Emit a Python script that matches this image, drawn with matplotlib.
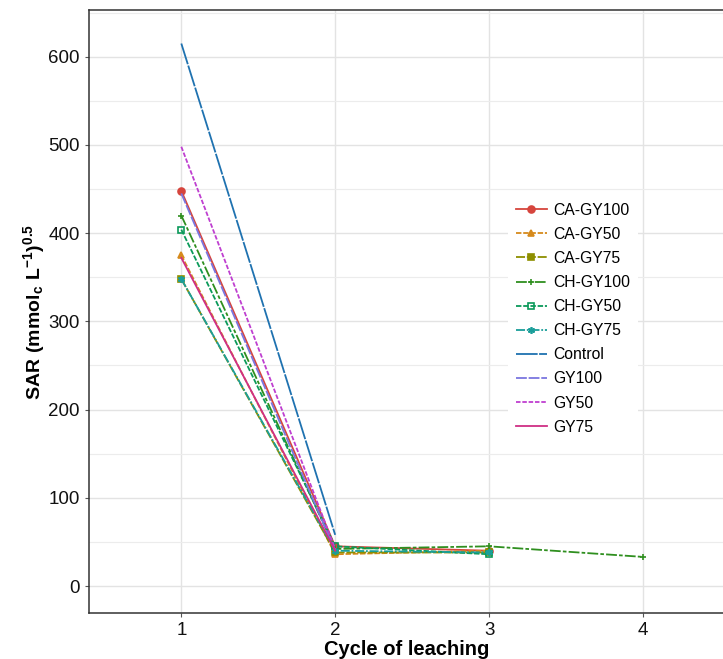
import matplotlib
matplotlib.use("Agg")
import matplotlib.pyplot as plt

plt.rcParams['font.family'] = ['Liberation Sans', 'DejaVu Sans']
plt.rcParams['mathtext.fontset'] = 'custom'
plt.rcParams['mathtext.rm'] = 'Liberation Sans'
plt.rcParams['mathtext.bf'] = 'Liberation Sans:bold'

# data
series_names = ["CA-GY100", "CA-GY50", "CA-GY75", "CH-GY100", "CH-GY50",
                "CH-GY75", "Control", "GY100", "GY50", "GY75"]
cycles_ca = [1, 2, 3]
cycles_ch100 = [1, 2, 3, 4]
cycles_two = [1, 2]
ca_gy100 = [448, 45, 40]
ca_gy50 = [375, 36, 40]
ca_gy75 = [348, 38, 38]
ch_gy100 = [420, 42, 45, 33]
ch_gy50 = [404, 45, 36]
ch_gy75 = [348, 40, 38]
control = [615, 58]
gy100 = [445, 40]
gy50 = [498, 42]
gy75 = [372, 40]

xs = [cycles_ca, cycles_ca, cycles_ca, cycles_ch100, cycles_ca, cycles_ca,
      cycles_two, cycles_two, cycles_two, cycles_two]
ys = [ca_gy100, ca_gy50, ca_gy75, ch_gy100, ch_gy50, ch_gy75,
      control, gy100, gy50, gy75]
colors = ["#d6453d", "#d68a1c", "#8e8f00", "#2f8f1f", "#0b9a5a", "#1a9e9a",
          "#1f72b0", "#7b76df", "#bf3fd0", "#cf2f85"]
markers = ["o", "^", "s", "+", "s", (6, 2, 0), None, None, None, None]
mfill = [True, True, True, True, False, True, True, True, True, True]
dashes = [None, (3, 1), (5, 1), (6, 1.2, 2, 1.2), (3, 1), (5, 1, 1, 1),
          (12, 0.8), (6, 1), (2.5, 1), None]

fig = plt.figure(figsize=(7.23, 6.59), dpi=100)
ax = fig.add_axes([89 / 723, 46 / 659, 1 - 89 / 723 + 0.002, (613 - 10) / 659])

for name, x, y, c, m, f, d in zip(series_names, xs, ys, colors, markers, mfill, dashes):
    kw = dict(color=c, lw=1.3, label=name)
    if m is not None:
        kw.update(marker=m, markersize=5, markeredgewidth=1.2)
        if not f:
            kw.update(markerfacecolor='none')
    line, = ax.plot(x, y, **kw)
    if d is not None:
        line.set_dashes(d)

ax.set_xlim(0.4, 4.53)
ax.set_ylim(-30.6, 653)
ax.set_xticks([1, 2, 3, 4])
ax.set_yticks([0, 100, 200, 300, 400, 500, 600])
ax.set_yticks([50, 150, 250, 350, 450, 550, 650], minor=True)
ax.grid(True, which='major', color='#e3e3e3', lw=1.0)
ax.grid(True, which='minor', axis='y', color='#ececec', lw=0.8)
ax.set_axisbelow(True)
ax.tick_params(axis='both', which='major', labelsize=13.5, length=3,
               color='#555555', labelcolor='#111111')
ax.tick_params(axis='y', which='minor', length=0)
for s in ['left', 'bottom', 'top']:
    ax.spines[s].set_color('#333333')
    ax.spines[s].set_linewidth(1.1)
ax.spines['right'].set_visible(False)

ax.set_xlabel("Cycle of leaching", fontsize=14.5, fontweight='bold', labelpad=1)
ax.set_ylabel(r"$\mathbf{SAR\ (mmol_c\ L^{-1})^{0.5}}$", fontsize=14, labelpad=1)

leg = ax.legend(loc='upper left', bbox_to_anchor=((500 - 89) / (723 - 89 + 1.5), 1 - (187 - 10) / 603),
                frameon=True, fontsize=11.3, handlelength=2.0, labelspacing=0.58,
                borderpad=0.5, handletextpad=0.4, markerscale=1.0)
leg.get_frame().set_edgecolor('none')
leg.get_frame().set_facecolor('white')
leg.get_frame().set_alpha(1)

fig.savefig("out.png", dpi=100)
